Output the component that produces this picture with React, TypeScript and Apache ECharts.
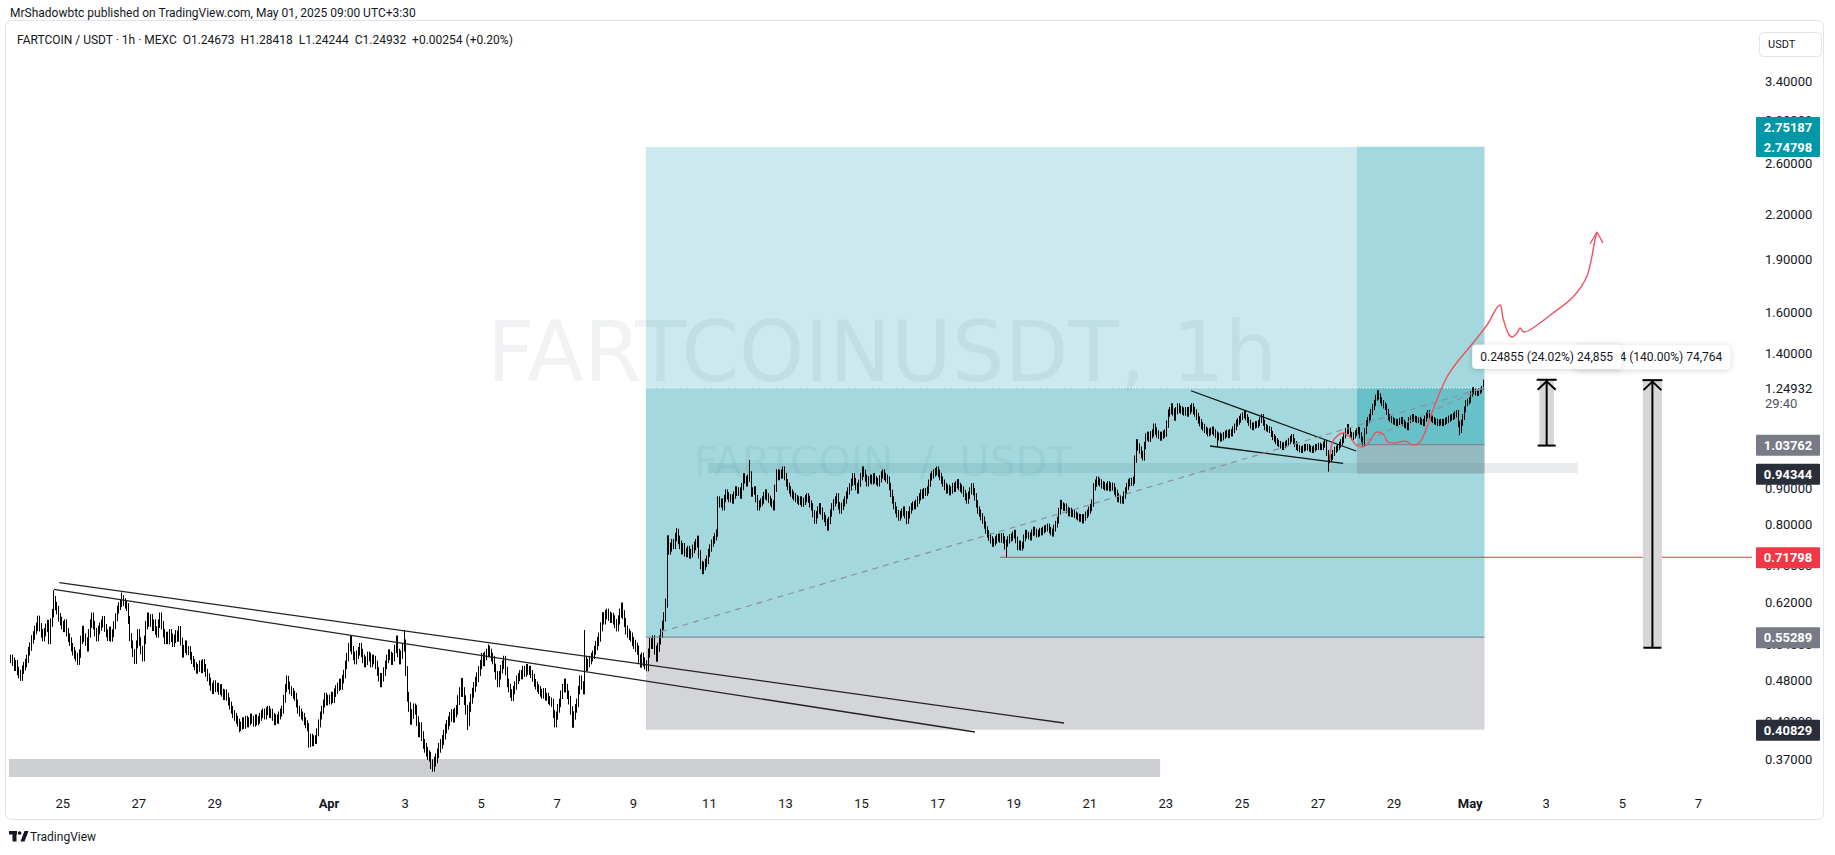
import React, { useEffect, useRef } from 'react';
import * as echarts from 'echarts';

// ---------------- DATA ----------------
// x values are days counted from 1 Apr 2025 00:00 (UTC+3:30)
const FIRST_CANDLE_DAY = -9 + 15.5 / 24; // 23 Mar 15:30, hourly candles
const X_MIN = -8.412;
const X_MAX = 37.408;
const Y_MIN = 0.33976;
const Y_MAX = 4.1227;

// hourly closes, in thousandths of USDT
const closeThousandths = [
  515, 510, 502, 506, 495, 490, 486, 497, 503, 508,
  515, 528, 536, 549, 556, 566, 572, 585, 571, 560,
  553, 562, 570, 577, 548, 580, 598, 624, 612, 604,
  590, 583, 575, 570, 578, 562, 552, 545, 535, 528,
  522, 518, 512, 524, 548, 566, 552, 545, 535, 560,
  578, 591, 575, 562, 553, 566, 572, 578, 585, 570,
  560, 553, 565, 552, 560, 575, 590, 605, 612, 618,
  626, 620, 615, 610, 585, 553, 540, 525, 513, 540,
  560, 545, 530, 518, 548, 575, 591, 580, 588, 572,
  578, 565, 560, 578, 591, 575, 560, 548, 555, 548,
  560, 552, 543, 550, 558, 552, 566, 545, 524, 532,
  540, 528, 530, 520, 513, 508, 503, 497, 500, 506,
  498, 508, 500, 492, 485, 478, 470, 465, 474, 468,
  470, 464, 468, 461, 456, 460, 455, 448, 442, 436,
  430, 426, 422, 418, 412, 414, 420, 415, 422, 417,
  420, 425, 422, 418, 424, 420, 422, 426, 430, 432,
  428, 434, 436, 430, 432, 426, 420, 424, 422, 428,
  432, 436, 452, 468, 481, 472, 465, 462, 458, 455,
  445, 436, 432, 428, 426, 420, 416, 412, 391, 398,
  392, 396, 395, 405, 417, 428, 436, 445, 455, 448,
  452, 450, 456, 452, 461, 466, 470, 476, 472, 482,
  490, 505, 518, 535, 548, 530, 520, 513, 522, 528,
  535, 525, 515, 508, 512, 520, 518, 508, 515, 513,
  505, 494, 485, 476, 485, 494, 505, 515, 524, 520,
  512, 518, 532, 548, 525, 513, 522, 535, 540, 495,
  455, 440, 422, 430, 438, 436, 420, 405, 412, 400,
  390, 385, 380, 376, 374, 365, 362, 368, 372, 378,
  385, 390, 395, 402, 410, 415, 420, 426, 430, 425,
  432, 436, 450, 462, 476, 462, 450, 436, 420, 440,
  452, 461, 470, 478, 485, 495, 505, 518, 510, 520,
  525, 530, 525, 518, 513, 500, 488, 476, 488, 498,
  505, 513, 495, 476, 468, 460, 455, 465, 472, 481,
  485, 490, 488, 497, 492, 500, 495, 497, 490, 484,
  476, 472, 468, 465, 461, 458, 462, 455, 455, 450,
  448, 446, 430, 417, 428, 438, 446, 458, 468, 476,
  468, 458, 450, 435, 417, 428, 438, 446, 465, 481,
  472, 465, 513, 502, 508, 513, 518, 522, 530, 538,
  545, 553, 572, 591, 585, 595, 598, 592, 588, 590,
  585, 578, 572, 585, 598, 610, 595, 580, 566, 560,
  556, 553, 545, 540, 535, 530, 515, 508, 518, 510,
  505, 502, 525, 543, 540, 548, 530, 518, 535, 548,
  560, 575, 591, 618, 760, 735, 742, 752, 748, 767,
  777, 760, 748, 735, 742, 730, 728, 735, 725, 728,
  738, 745, 752, 760, 725, 700, 689, 698, 705, 712,
  728, 740, 752, 760, 768, 777, 866, 855, 860, 847,
  870, 886, 878, 870, 872, 866, 880, 895, 888, 892,
  880, 905, 934, 925, 916, 930, 940, 886, 892, 895,
  870, 847, 855, 860, 866, 878, 886, 875, 868, 860,
  855, 847, 900, 946, 935, 945, 940, 955, 935, 916,
  905, 895, 886, 880, 875, 870, 866, 862, 866, 857,
  862, 870, 875, 868, 855, 847, 828, 811, 825, 838,
  847, 835, 822, 815, 805, 793, 810, 830, 847, 858,
  866, 875, 850, 838, 848, 858, 866, 880, 892, 904,
  918, 934, 920, 905, 895, 915, 935, 955, 945, 930,
  916, 925, 930, 922, 934, 925, 920, 916, 928, 940,
  946, 935, 930, 924, 905, 885, 866, 850, 838, 828,
  819, 826, 832, 838, 825, 811, 825, 838, 847, 852,
  850, 857, 866, 875, 886, 880, 890, 888, 895, 915,
  934, 940, 946, 950, 955, 945, 935, 924, 915, 905,
  895, 900, 890, 895, 905, 900, 910, 916, 905, 900,
  895, 885, 875, 866, 880, 892, 904, 890, 875, 855,
  838, 830, 820, 811, 798, 785, 775, 767, 760, 752,
  755, 760, 765, 767, 762, 768, 760, 745, 752, 760,
  765, 767, 772, 777, 760, 743, 750, 742, 747, 765,
  777, 772, 770, 767, 778, 785, 780, 775, 777, 782,
  780, 785, 788, 790, 793, 785, 780, 777, 790, 800,
  811, 835, 857, 850, 845, 847, 838, 830, 835, 828,
  830, 825, 822, 819, 815, 818, 811, 818, 825, 830,
  838, 845, 857, 904, 915, 924, 920, 916, 910, 908,
  904, 904, 910, 902, 906, 904, 892, 885, 875, 870,
  866, 866, 880, 892, 905, 916, 920, 918, 924, 990,
  1044, 1030, 1020, 1005, 997, 1035, 1064, 1070, 1060, 1072,
  1078, 1099, 1085, 1075, 1070, 1064, 1070, 1074, 1078, 1110,
  1151, 1160, 1174, 1155, 1136, 1160, 1174, 1165, 1162, 1158,
  1155, 1160, 1151, 1160, 1168, 1174, 1160, 1151, 1138, 1125,
  1115, 1105, 1099, 1090, 1085, 1078, 1082, 1086, 1089, 1080,
  1072, 1064, 1068, 1060, 1064, 1070, 1075, 1078, 1072, 1080,
  1078, 1090, 1100, 1114, 1120, 1128, 1136, 1142, 1151, 1135,
  1125, 1115, 1105, 1099, 1105, 1110, 1108, 1114, 1125, 1136,
  1115, 1099, 1095, 1092, 1089, 1075, 1064, 1058, 1050, 1044,
  1040, 1035, 1030, 1036, 1040, 1044, 1050, 1058, 1064, 1050,
  1040, 1030, 1026, 1022, 1020, 1025, 1030, 1028, 1030, 1025,
  1022, 1020, 1025, 1030, 1030, 1034, 1030, 1030, 1038, 1044,
  1010, 987, 992, 997, 1010, 1020, 1025, 1030, 1038, 1046,
  1054, 1070, 1085, 1099, 1085, 1072, 1064, 1070, 1078, 1084,
  1089, 1070, 1055, 1044, 1085, 1114, 1125, 1136, 1155, 1174,
  1190, 1210, 1228, 1215, 1200, 1189, 1180, 1174, 1155, 1136,
  1130, 1125, 1120, 1118, 1114, 1118, 1122, 1125, 1115, 1108,
  1105, 1099, 1125, 1130, 1136, 1130, 1128, 1125, 1125, 1120,
  1118, 1114, 1130, 1142, 1151, 1140, 1130, 1125, 1120, 1118,
  1114, 1116, 1118, 1114, 1118, 1122, 1125, 1130, 1134, 1136,
  1140, 1146, 1151, 1110, 1089, 1115, 1136, 1165, 1189, 1195,
  1201, 1225, 1241, 1235, 1230, 1228, 1236, 1241, 1247, 1249,
];

// typical hourly wick length beyond the body, in percent, one value per calendar day (23 Mar .. 1 May)
const dailyWickPct = [
  1.4, 1.4, 1.4, 1.3, 1.4, 1.3, 1.3, 1.3, 1.3,
  1.4, 1.4, 1.6, 1.6, 1.4, 1.3, 1.4, 1.5, 1.5, 1.4,
  1.2, 1.2, 1.2, 1.2, 1.2, 1.2, 1.2, 1.2, 1.1, 1.1,
  1.2, 1.2, 1.2, 1.1, 1.0, 1.0, 1.0, 1.0, 1.0, 1.0,
  0.9,
];

// notable wicks: [candle index, price in thousandths]
const wickHighs = [
  [27, 645], [70, 640], [174, 488], [243, 553], [248, 566], [301, 540], [362, 566],
  [376, 605], [385, 615], [420, 790], [466, 987], [487, 965], [537, 965], [584, 965], [862, 1235],
];
const wickLows = [
  [144, 405], [188, 385], [266, 356], [288, 408], [436, 680], [515, 785], [565, 800],
  [628, 718], [698, 860], [761, 1030], [831, 950], [914, 1070],
];
const lastCandle = { open: 1.24673, high: 1.28418, low: 1.24244, close: 1.24932 };
const lastPrice = 1.24932;

const xTickDays = [-7, -5, -3, 0, 2, 4, 6, 8, 10, 12, 14, 16, 18, 20, 22, 24, 26, 28, 30, 32, 34, 36];
const xTickLabels = ['25', '27', '29', 'Apr', '3', '5', '7', '9', '11', '13', '15', '17', '19', '21', '23', '25', '27', '29', 'May', '3', '5', '7'];
const yTickValues = [3.4, 3.0, 2.6, 2.2, 1.9, 1.6, 1.4, 0.9, 0.8, 0.7, 0.62, 0.54, 0.48, 0.42, 0.37];

// long position tools
const longPositions = [
  { start: 8.333, end: 30.375, entry: 0.55289, stop: 0.40829, target: 2.74798 },
  { start: 27.024, end: 30.375, entry: 1.03762, stop: 0.94344, target: 2.75187 },
];
// horizontal rectangles
const bands = [
  { start: X_MIN, end: 21.85, low: 0.35, high: 0.371 },
  { start: 9.963, end: 32.83, low: 0.9459, high: 0.9774 },
];
// trend lines [day, price] pairs
const trendUpper = [[-7.09, 0.6607], [19.32, 0.4175]];
const trendLower = [[-7.23, 0.6466], [16.98, 0.4054]];
const wedgeUpper = [[22.66, 1.238], [27.0, 1.0165]];
const wedgeLower = [[23.16, 1.0333], [26.66, 0.9764]];
const dashedPaths = [
  [[8.74, 0.5628], [30.354, 1.24932]],
  [[27.024, 1.03762], [30.354, 1.24932]],
];
const redLevel = { start: 17.64, price: 0.71798 };

// red hand-drawn projection
const sketchDays = [26.314, 26.367, 26.499, 26.656, 26.84, 27.024, 27.182, 27.366, 27.55, 27.708, 27.839, 28.023, 28.286, 28.496, 28.68, 28.864, 29.022, 29.206, 29.39, 29.6, 29.811, 30.074, 30.442, 30.783, 30.862, 30.994, 31.099, 31.23, 31.309, 31.414, 31.651, 32.177, 32.702, 33.07, 33.281, 33.333];
const sketchPrices = [0.987, 1.0434, 1.0676, 1.0781, 1.0641, 1.0332, 1.0299, 1.0503, 1.0817, 1.0746, 1.0469, 1.0434, 1.0503, 1.0366, 1.0469, 1.0995, 1.1624, 1.2329, 1.2949, 1.3467, 1.3915, 1.4472, 1.535, 1.6388, 1.5706, 1.4954, 1.4759, 1.4954, 1.52, 1.5003, 1.52, 1.5964, 1.6824, 1.8019, 2.0271, 2.0809];
const sketchArrowDays = [33.149, 33.333, 33.491];
const sketchArrowPrices = [2.0007, 2.0809, 2.0073];

// price range measurements
const priceRanges = [
  { start: 34.54, end: 35.04, from: 0.534029, to: 1.281669, label: '0.74764 (140.00%) 74,764' },
  { start: 31.82, end: 32.2, from: 1.03476, to: 1.28331, label: '0.24855 (24.02%) 24,855' },
];

// price scale tags
const axisTagValues = [2.74798, 1.03762, 0.94344, 0.71798, 0.55289, 0.40829];
const stackedTagValue = 2.75187;
const countdown = '29:40';

// ---------------- STYLES ----------------
const FONT = 'Roboto, "Noto Sans", sans-serif';
const TEXT = '#131722';
const tagColors = ['#0097A7', '#787B86', '#2A2E39', '#F23645', '#787B86', '#2A2E39'];
const PROFIT = 'rgba(0,151,167,0.2)';
const STOP = 'rgba(120,123,134,0.32)';
const bandColors = ['rgba(120,123,134,0.36)', 'rgba(120,123,134,0.16)'];

function buildCandles() {
  const hi = new Map(wickHighs.map((w) => [w[0], w[1] / 1000]));
  const lo = new Map(wickLows.map((w) => [w[0], w[1] / 1000]));
  const n = closeThousandths.length;
  return closeThousandths.map((c, i) => {
    const x = FIRST_CANDLE_DAY + i / 24;
    const close = c / 1000;
    const open = i === 0 ? close : closeThousandths[i - 1] / 1000;
    const dayIdx = Math.min(dailyWickPct.length - 1, Math.max(0, Math.floor(x + 9)));
    const w = dailyWickPct[dayIdx] / 100;
    let high = Math.max(open, close) * (1 + w);
    let low = Math.min(open, close) * (1 - w);
    if (hi.has(i)) high = Math.max(high, hi.get(i) as number);
    if (lo.has(i)) low = Math.min(low, lo.get(i) as number);
    if (i === n - 1) return [x, lastCandle.open, lastCandle.close, lastCandle.low, lastCandle.high];
    return [x, open, close, low, high];
  });
}

function buildZones() {
  const rects: number[][] = [];
  const colors: string[] = [];
  bands.forEach((b, k) => {
    rects.push([b.start, b.low, b.end, b.high]);
    colors.push(bandColors[k]);
  });
  longPositions.forEach((p) => {
    rects.push([p.start, p.entry, p.end, p.target]);
    colors.push(PROFIT);
    rects.push([p.start, p.entry, p.end, lastPrice]);
    colors.push(PROFIT);
    rects.push([p.start, p.stop, p.end, p.entry]);
    colors.push(STOP);
  });
  return { rects, colors };
}

function lineSeries(data: number[][], style: any, z: number, smooth: any = false) {
  return {
    type: 'line',
    data,
    symbol: 'none',
    silent: true,
    smooth,
    z,
    lineStyle: style,
    clip: true,
  };
}

export default function App() {
  const ref = useRef<HTMLDivElement>(null);

  useEffect(() => {
    if (!ref.current) return;
    const chart = echarts.init(ref.current, undefined, { renderer: 'svg' });
    const candles = buildCandles();
    const zones = buildZones();

    const lines: any[] = [
      lineSeries(trendUpper, { color: '#222', width: 1.3 }, 4),
      lineSeries(trendLower, { color: '#222', width: 1.3 }, 4),
      lineSeries(wedgeUpper, { color: '#111', width: 1.3 }, 4),
      lineSeries(wedgeLower, { color: '#111', width: 1.3 }, 4),
      ...longPositions.map((p) => lineSeries([[p.start, p.entry], [p.end, p.entry]], { color: '#787B86', width: 1 }, 4)),
      lineSeries([[longPositions[0].start, lastPrice], [longPositions[0].end, lastPrice]], { color: '#ffffff', width: 1, type: [1, 2] }, 4),
      ...dashedPaths.map((d) => lineSeries(d, { color: '#8f9199', width: 1.2, type: [6, 5] }, 4)),
      lineSeries([[redLevel.start, redLevel.price], [X_MAX, redLevel.price]], { color: '#F23645', width: 1 }, 4),
      lineSeries(sketchDays.map((d, i) => [d, sketchPrices[i]]), { color: '#F0525E', width: 1.4 }, 5, 0.35),
      lineSeries(sketchArrowDays.map((d, i) => [d, sketchArrowPrices[i]]), { color: '#F0525E', width: 1.4 }, 5),
    ];

    chart.setOption({
      animation: false,
      backgroundColor: '#ffffff',
      grid: { left: 9, right: 83, top: 23, bottom: 69 },
      xAxis: {
        type: 'value',
        min: X_MIN,
        max: X_MAX,
        axisLine: { show: false },
        axisTick: { show: false },
        splitLine: { show: false },
        axisLabel: {
          customValues: xTickDays,
          margin: 11,
          fontSize: 13,
          fontFamily: FONT,
          color: TEXT,
          formatter: (v: number) => {
            const k = xTickDays.indexOf(Math.round(v));
            const t = k >= 0 ? xTickLabels[k] : '';
            return /[A-Za-z]/.test(t) ? `{b|${t}}` : t;
          },
          rich: { b: { fontWeight: 'bold', fontSize: 13, fontFamily: FONT, color: TEXT } },
        },
      },
      yAxis: {
        type: 'log',
        position: 'right',
        min: Y_MIN,
        max: Y_MAX,
        axisLine: { show: false },
        axisTick: { show: false },
        splitLine: { show: false },
        axisLabel: {
          customValues: yTickValues,
          margin: 13,
          fontSize: 13,
          fontFamily: FONT,
          color: TEXT,
          formatter: (v: number) => Number(v).toFixed(5),
        },
      },
      graphic: [
        {
          type: 'text', left: 10, top: 7, z: 0,
          style: { text: 'MrShadowbtc published on TradingView.com, May 01, 2025 09:00 UTC+3:30', fill: TEXT, font: `12px ${FONT}` },
        },
        {
          type: 'rect', z: 0,
          shape: { x: 5.5, y: 20.5, width: 1818, height: 799, r: 6 },
          style: { fill: 'none', stroke: '#E0E3EB', lineWidth: 1 },
        },
        {
          type: 'text', left: 17, top: 34, z: 10,
          style: { text: 'FARTCOIN / USDT · 1h · MEXC  O1.24673  H1.28418  L1.24244  C1.24932  +0.00254 (+0.20%)', fill: TEXT, font: `12px ${FONT}` },
        },
        {
          type: 'rect', z: 10,
          shape: { x: 1759.5, y: 32.5, width: 62, height: 24, r: 4 },
          style: { fill: '#fff', stroke: '#E0E3EB', lineWidth: 1 },
        },
        {
          type: 'text', x: 1768, y: 44.5, z: 11,
          style: { text: 'USDT', fill: TEXT, font: `11px ${FONT}`, verticalAlign: 'middle' },
        },
        {
          type: 'text', x: 882, y: 352, z: 0,
          style: { text: 'FARTCOINUSDT, 1h', fill: 'rgba(120,123,134,0.1)', font: '83px "DejaVu Sans"', align: 'center', verticalAlign: 'middle' },
        },
        {
          type: 'text', x: 883, y: 462, z: 0,
          style: { text: 'FARTCOIN  /  USDT', fill: 'rgba(120,123,134,0.1)', font: '41px "DejaVu Sans"', align: 'center', verticalAlign: 'middle' },
        },
        { type: 'rect', z: 0, shape: { x: 9, y: 831, width: 8, height: 3.5 }, style: { fill: TEXT } },
        { type: 'rect', z: 0, shape: { x: 12.5, y: 831, width: 4, height: 10.5 }, style: { fill: TEXT } },
        { type: 'circle', z: 0, shape: { cx: 19.6, cy: 833, r: 1.8 }, style: { fill: TEXT } },
        { type: 'polygon', z: 0, shape: { points: [[20.5, 841.5], [24.5, 831], [28.5, 831], [24.5, 841.5]] }, style: { fill: TEXT } },
        {
          type: 'text', x: 30, y: 836.5, z: 0,
          style: { text: 'TradingView', fill: TEXT, font: `12px ${FONT}`, verticalAlign: 'middle' },
        },
      ],
      series: [
        {
          type: 'custom',
          name: 'zones',
          silent: true,
          clip: true,
          z: 1,
          data: zones.rects,
          renderItem: (params: any, api: any) => {
            const a = api.coord([api.value(0), api.value(1)]);
            const b = api.coord([api.value(2), api.value(3)]);
            return {
              type: 'rect',
              shape: { x: Math.min(a[0], b[0]), y: Math.min(a[1], b[1]), width: Math.abs(b[0] - a[0]), height: Math.abs(b[1] - a[1]) },
              style: { fill: zones.colors[params.dataIndex] },
            };
          },
        },
        {
          type: 'candlestick',
          name: 'FARTCOINUSDT',
          data: candles,
          encode: { x: 0, y: [1, 2, 3, 4] },
          large: false,
          barWidth: 0.7,
          silent: true,
          z: 3,
          itemStyle: { color: '#000', color0: '#000', borderColor: '#000', borderColor0: '#000', borderWidth: 1 },
        },
        ...lines,
        {
          type: 'custom',
          name: 'ranges',
          silent: true,
          clip: false,
          z: 6,
          data: priceRanges.map((r) => [r.start, r.from, r.end, r.to]),
          renderItem: (params: any, api: any) => {
            const a = api.coord([api.value(0), api.value(1)]);
            const b = api.coord([api.value(2), api.value(3)]);
            const x1 = a[0], x2 = b[0], yb = a[1], yt = b[1];
            const xm = (x1 + x2) / 2;
            const stroke = { stroke: '#000', lineWidth: 2 };
            return {
              type: 'group',
              children: [
                { type: 'rect', shape: { x: x1, y: yt, width: x2 - x1, height: yb - yt }, style: { fill: '#D6D6D6' } },
                { type: 'line', shape: { x1: xm, y1: yt, x2: xm, y2: yb }, style: stroke },
                { type: 'line', shape: { x1: xm - 10, y1: yt, x2: xm + 10, y2: yt }, style: stroke },
                { type: 'polyline', shape: { points: [[xm - 9, yt + 10], [xm, yt + 1.5], [xm + 9, yt + 10]] }, style: { ...stroke, fill: 'none' } },
                { type: 'line', shape: { x1: xm - 9, y1: yb, x2: xm + 9, y2: yb }, style: stroke },
                {
                  type: 'text',
                  x: xm,
                  y: yt - 23,
                  style: {
                    text: priceRanges[params.dataIndex].label,
                    fill: TEXT,
                    font: `12px ${FONT}`,
                    align: 'center',
                    verticalAlign: 'middle',
                    backgroundColor: '#ffffff',
                    padding: [6, 8, 6, 8],
                    borderRadius: 4,
                    shadowBlur: 6,
                    shadowColor: 'rgba(0,0,0,0.18)',
                    shadowOffsetY: 1,
                  },
                },
              ],
            };
          },
        },
        {
          type: 'custom',
          name: 'tags',
          silent: true,
          clip: false,
          z: 8,
          data: axisTagValues.map((v) => [X_MAX, v]),
          renderItem: (params: any, api: any) => {
            const i = params.dataIndex;
            const p = api.coord([api.value(0), api.value(1)]);
            const x = p[0] + 4;
            const y = p[1];
            const tagText = (t: string, ty: number) => ({
              type: 'text',
              x: x + 32,
              y: ty,
              style: { text: t, fill: '#fff', font: `bold 13px ${FONT}`, align: 'center', verticalAlign: 'middle' },
            });
            const children: any[] = [];
            if (i === 0) {
              children.push({ type: 'rect', shape: { x, y: y - 30, width: 64, height: 40, r: 1 }, style: { fill: tagColors[i] } });
              children.push(tagText(stackedTagValue.toFixed(5), y - 19));
              children.push(tagText(axisTagValues[i].toFixed(5), y + 1));
              const lp = api.coord([X_MAX, lastPrice]);
              children.push({ type: 'text', x: lp[0] + 13, y: lp[1] + 1, style: { text: lastPrice.toFixed(5), fill: TEXT, font: `13px ${FONT}`, verticalAlign: 'middle' } });
              children.push({ type: 'text', x: lp[0] + 13, y: lp[1] + 16, style: { text: countdown, fill: '#50535E', font: `13px ${FONT}`, verticalAlign: 'middle' } });
            } else {
              children.push({ type: 'rect', shape: { x, y: y - 10, width: 64, height: 21, r: 1 }, style: { fill: tagColors[i] } });
              children.push(tagText(axisTagValues[i].toFixed(5), y + 0.5));
            }
            return { type: 'group', children };
          },
        },
      ],
    });

    return () => chart.dispose();
  }, []);

  return <div ref={ref} style={{ position: 'absolute', left: 0, top: 0, width: 1835, height: 855 }} />;
}
